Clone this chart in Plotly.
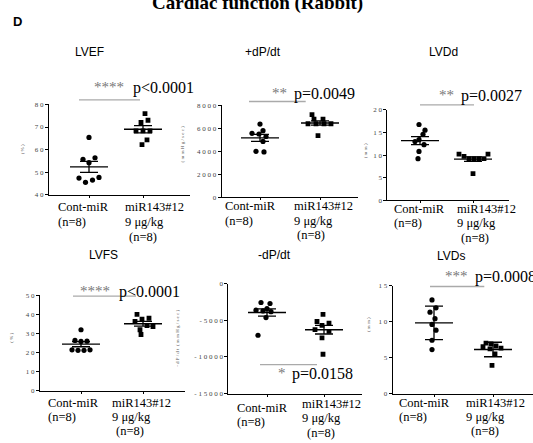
import plotly.graph_objects as go
import numpy as np

W, H = 533, 443
SERIF = "Liberation Serif"
SANS = "Liberation Sans"

groups = ["Cont-miR", "miR143#12"]
group_lines = [["Cont-miR", "(n=8)"], ["miR143#12", "9 μg/kg", "(n=8)"]]

# ---- data ----
lvef_cont = [65.4, 55.7, 56.4, 54.2, 47.4, 47.7, 45.5, 46.5]
lvef_mir = [75.9, 72.0, 73.0, 68.3, 68.3, 68.3, 64.3, 62.2]
dpdt_pos_cont = [6370, 5800, 5570, 5510, 5290, 4860, 4000, 3940]
dpdt_pos_mir = [7200, 6800, 6800, 6400, 6400, 6400, 6400, 5370]
lvdd_cont = [16.75, 15.5, 14.6, 13.4, 13.0, 12.3, 10.8, 9.2]
lvdd_mir = [10.2, 9.7, 9.2, 9.2, 9.2, 9.2, 10.2, 5.9]
lvfs_cont = [32.0, 26.4, 25.9, 26.0, 21.5, 21.2, 21.2, 21.5]
lvfs_mir = [40.0, 37.5, 38.0, 36.3, 34.2, 33.7, 32.0, 29.5]
dpdt_neg_cont = [-2550, -2690, -3400, -3600, -3700, -3800, -4610, -7030]
dpdt_neg_mir = [-4165, -5150, -5370, -5690, -6270, -6490, -7390, -9630]
lvds_cont = [13.0, 11.9, 11.3, 10.4, 9.6, 8.8, 7.4, 6.1]
lvds_mir = [7.0, 6.9, 6.6, 6.5, 6.3, 6.2, 5.5, 3.9]

titles = ["LVEF", "+dP/dt", "LVDd", "LVFS", "-dP/dt", "LVDs"]
ytitles = ["(%)", "(mmHg/sec)", "(mm)", "(%)", "-dP/dt (mmHg/sec)", "(mm)"]
yticks = [[40, 50, 60, 70, 80], [0, 2000, 4000, 6000, 8000], [0, 5, 10, 15, 20],
          [0, 10, 20, 30, 40, 50], [-15000, -10000, -5000, 0], [0, 5, 10, 15]]
yranges = [[40, 80], [0, 8000], [0, 20], [0, 50], [-15000, 0], [0, 15]]
stars = ["****", "**", "**", "****", "*", "***"]
pvals = ["p<0.0001", "p=0.0049", "p=0.0027", "p<0.0001", "p=0.0158", "p=0.0008"]
err_kind = ["sem", "sem", "sem", "sem", "sem", "sd"]

data = [(lvef_cont, lvef_mir), (dpdt_pos_cont, dpdt_pos_mir), (lvdd_cont, lvdd_mir),
        (lvfs_cont, lvfs_mir), (dpdt_neg_cont, dpdt_neg_mir), (lvds_cont, lvds_mir)]

# ---- layout in pixels (style) ----
panels = [
    dict(x0=49, x1=190, c=89, m=143, ybot=194.3, ytop=102.3),
    dict(x0=221.7, x1=358, c=260, m=320, ybot=196.7, ytop=103.3),
    dict(x0=387.3, x1=509, c=420, m=473, ybot=200, ytop=107.7),
    dict(x0=40, x1=185, c=81, m=143, ybot=394, ytop=296.7),
    dict(x0=228.3, x1=362, c=267, m=324, ybot=396.7, ytop=285),
    dict(x0=392.7, x1=533, c=434, m=493, ybot=396.7, ytop=286.7),
]
title_pos = [(89, 49), (263, 49), (443, 49), (103, 256), (274, 256), (451, 257)]
ytitle_pos = [(22, 148), (182, 143), (365, 150), (12, 340), (178, 341), (368, 327)]
sig_pos = [(126, 130.7, 86, 79, 140, 97.7), (289, 292, 91.7, 249, 305.7, 99.3),
           (456, 459, 93.3, 420, 474, 102.7), (112, 116.7, 293, 73, 136, 297.5),
           (288, 290, 376.7, 260, 317, 367.3), (470, 473.3, 278.3, 430, 484.3, 287.7)]
lab_pos = [(56, [207, 222], 123, [207, 222, 237], 127),
           (223, [206, 220.5], 292, [206, 220.5, 235], 295),
           (392, [209, 223.5], 455, [209, 223.5, 238], 459),
           (46, [406, 420.5], 110, [406, 420.5, 435], 114),
           (235, [411, 425.5], 300, [407.5, 422, 436.5], 305),
           (397, [406, 420.5], 464, [406, 420.5, 435], 469)]
offsets = [
    ([0, -6, 6, 0, -10, 10, -3.5, 3.5], [2, -2, 5, -7, 0, 7, 4, -1]),
    ([0, 3, -8, -1, 6, 3, -4, 4], [-8, -6, 3, -12, -4, 4, 11, -2]),
    ([-1, 5, 3, -1, -5, 4, -1, -2], [-14, -9, -4, 1, 6, 11, 15, 0]),
    ([0, -6, 0, 6, -9, -3, 3, 9], [-6, -1, 6, -8, 4, 10, -3, -2]),
    ([-6, 3, 0, -11, -4, 4, -1, -9], [-1, -7, 5, -2, -9, 5, -2, -1]),
    ([-2, 2, -4, 1, -2, 2, -2, -2], [-7, -2, 3, -10, 8, -3, 2, -1]),
]
MEAN_HALF = 19
CAP_HALF = 9


def px(x):
    return x / W


def py(y):
    return 1 - y / H


def spaced(v):
    return " ".join(str(v))


fig = go.Figure()
annotations = []
shapes = []
layout = {}

for i in range(6):
    k = i + 1
    p = panels[i]
    u = p["m"] - p["c"]
    xr = [(p["x0"] - p["c"]) / u, (p["x1"] - p["c"]) / u]
    xa = "x" if k == 1 else f"x{k}"
    ya = "y" if k == 1 else f"y{k}"
    layout[f"xaxis{k}"] = dict(
        domain=[px(p["x0"]), min(px(p["x1"]), 1.0)], range=xr, anchor=ya,
        showline=True, linecolor="black", linewidth=1, ticks="outside", ticklen=2,
        tickcolor="black", tickvals=[0, 1], showticklabels=False, showgrid=False,
        zeroline=False, fixedrange=True)
    layout[f"yaxis{k}"] = dict(
        domain=[py(p["ybot"]), py(p["ytop"])], range=yranges[i], anchor=xa,
        showline=True, linecolor="black", linewidth=1, ticks="outside", ticklen=3,
        tickcolor="black", tickvals=yticks[i], ticktext=[spaced(v) for v in yticks[i]],
        tickfont=dict(family=SERIF, size=7, color="#444"), showgrid=False,
        zeroline=False, fixedrange=True)

    for g, vals in enumerate(data[i]):
        vals = np.array(vals, dtype=float)
        offs = np.array(offsets[i][g]) / u
        fig.add_trace(go.Scatter(
            x=g + offs, y=vals, xaxis=xa, yaxis=ya, mode="markers",
            marker=dict(symbol="circle" if g == 0 else "square", size=5.2 if g == 0 else 4.8,
                        color="black", line=dict(width=0)),
            showlegend=False, hoverinfo="skip"))
        mean = vals.mean()
        sd = vals.std(ddof=1)
        err = sd if err_kind[i] == "sd" else sd / np.sqrt(len(vals))
        mh = MEAN_HALF / u
        fig.add_trace(go.Scatter(
            x=[g - mh, g + mh], y=[mean, mean], xaxis=xa, yaxis=ya, mode="lines",
            line=dict(color="black", width=1.4), showlegend=False, hoverinfo="skip"))
        fig.add_trace(go.Scatter(
            x=[g], y=[mean], xaxis=xa, yaxis=ya, mode="markers",
            marker=dict(size=1, color="rgba(0,0,0,0)"),
            error_y=dict(type="data", array=[err], visible=True, color="black",
                         thickness=1.3, width=CAP_HALF),
            showlegend=False, hoverinfo="skip"))

    tx, ty = title_pos[i]
    annotations.append(dict(text=titles[i], x=px(tx), y=py(ty), xref="paper", yref="paper",
                            showarrow=False, xanchor="center", yanchor="middle",
                            font=dict(family=SANS, size=12, color="black")))
    yx, yy = ytitle_pos[i]
    annotations.append(dict(text=spaced(ytitles[i]).replace("  ", " "), x=px(yx), y=py(yy),
                            xref="paper", yref="paper", showarrow=False, textangle=-90,
                            xanchor="center", yanchor="middle",
                            font=dict(family=SERIF, size=5, color="#555")))
    sx, pxl, sy, lx0, lx1, ly = sig_pos[i]
    annotations.append(dict(text=stars[i], x=px(sx), y=py(sy - 1), xref="paper", yref="paper",
                            showarrow=False, xanchor="right", yanchor="middle",
                            font=dict(family=SERIF, size=15, color="#777")))
    annotations.append(dict(text=pvals[i], x=px(pxl), y=py(sy), xref="paper", yref="paper",
                            showarrow=False, xanchor="left", yanchor="middle",
                            font=dict(family=SERIF, size=16, color="black")))
    shapes.append(dict(type="line", xref="paper", yref="paper", x0=px(lx0), x1=px(lx1),
                       y0=py(ly), y1=py(ly), line=dict(color="#aaaaaa", width=1.3)))
    cx, cys, mx, mys, mx3 = lab_pos[i]
    for gi, (lx, lys) in enumerate([(cx, cys), (mx, mys)]):
        for li, (line, yy2) in enumerate(zip(group_lines[gi], lys)):
            xx = mx3 if (gi == 1 and li == 2) else lx
            annotations.append(dict(text=line, x=px(xx), y=py(yy2), xref="paper", yref="paper",
                                    showarrow=False, xanchor="left", yanchor="middle",
                                    font=dict(family=SERIF, size=12.5, color="black")))

annotations.append(dict(text="<b>Cardiac function (Rabbit)</b>", x=px(257), y=py(-1),
                        xref="paper", yref="paper", showarrow=False, xanchor="center",
                        yanchor="middle", font=dict(family=SERIF, size=19, color="black")))
annotations.append(dict(text="<b>D</b>", x=px(17), y=py(18), xref="paper", yref="paper",
                        showarrow=False, xanchor="center", yanchor="middle",
                        font=dict(family=SANS, size=13, color="black")))

fig.update_layout(width=W, height=H, margin=dict(l=0, r=0, t=0, b=0),
                  paper_bgcolor="white", plot_bgcolor="white",
                  annotations=annotations, shapes=shapes, **layout)

fig.write_html("out.html", config={"displayModeBar": False},
               post_script="document.body.style.margin='0px';document.body.style.overflow='hidden';")
